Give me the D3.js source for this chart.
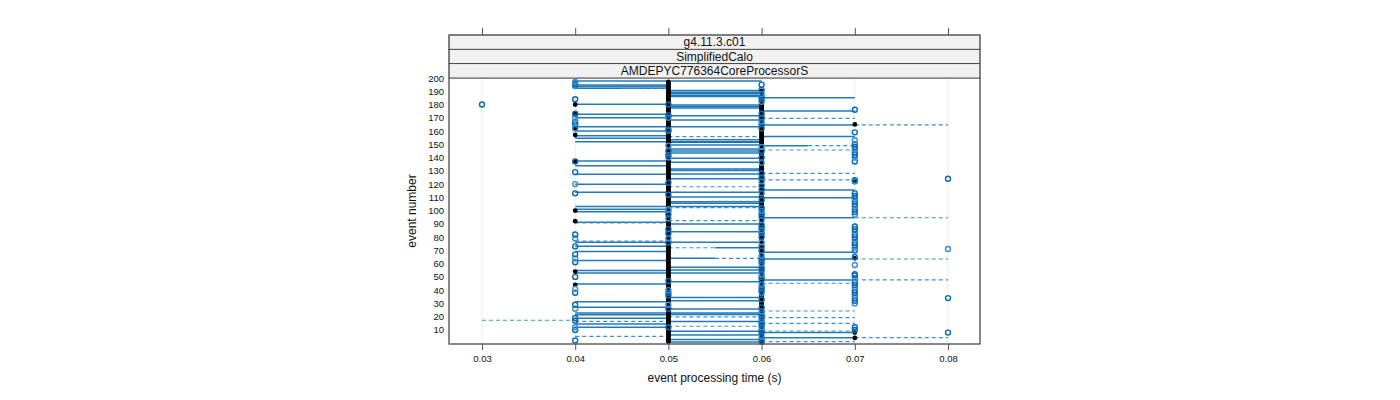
<!DOCTYPE html>
<html><head><meta charset="utf-8">
<script src="https://cdn.jsdelivr.net/npm/d3@7"></script>
<style>body{margin:0;background:#fff}text{font-family:"Liberation Sans",Arial,sans-serif}</style>
</head><body>
<svg id="chart" width="1400" height="400"></svg>
<script>
// ---------- data ----------
const stripLabels = ["g4.11.3.c01", "SimplifiedCalo", "AMDEPYC776364CoreProcessorS"];
const xTicks = [0.03, 0.04, 0.05, 0.06, 0.07, 0.08];
const yTicks = [10, 20, 30, 40, 50, 60, 70, 80, 90, 100, 110, 120, 130, 140, 150, 160, 170, 180, 190, 200];
const xLabel = "event processing time (s)";
const yLabel = "event number";

// solid segments: [event, from time, to time]
const solidSegs = [
  [197.7,0.04,0.06],[194.7,0.04,0.05],[193.6,0.04,0.05],[192.2,0.04,0.05],[180.2,0.04,0.05],[172.6,0.04,0.05],[170,0.04,0.05],
  [163.3,0.04,0.05],[160,0.04,0.05],[156.5,0.04,0.05],[154.5,0.04,0.05],[152,0.04,0.06],[137.4,0.04,0.05],
  [133.9,0.04,0.05],[127.4,0.04,0.05],[119.8,0.04,0.05],[113.8,0.04,0.05],[103,0.04,0.06],[101,0.04,0.05],
  [99.2,0.04,0.05],[91.2,0.04,0.05],[76.1,0.04,0.05],[73.1,0.04,0.05],[69.1,0.04,0.05],[62.3,0.04,0.05],
  [54.8,0.04,0.05],[53,0.04,0.05],[44.7,0.04,0.05],[31.3,0.04,0.05],[27.1,0.04,0.05],[22.8,0.04,0.05],
  [21.5,0.04,0.05],[18.8,0.04,0.05],[14.5,0.04,0.05],[12,0.04,0.05],
  [190.5,0.05,0.06],[189.3,0.05,0.06],[188.4,0.05,0.06],[187,0.05,0.06],[186,0.05,0.06],[179.6,0.05,0.06],[178.5,0.05,0.06],[177.4,0.05,0.06],
  [171.6,0.05,0.06],[168.3,0.05,0.06],[163.3,0.05,0.06],[153.5,0.05,0.06],[151.5,0.05,0.06],[149.5,0.05,0.06],[146.5,0.05,0.06],
  [145,0.05,0.06],[143.4,0.05,0.06],[139.4,0.05,0.06],[136.5,0.05,0.06],[131.4,0.05,0.06],[130.2,0.05,0.06],[127.6,0.05,0.06],
  [124,0.05,0.06],[113.8,0.05,0.06],[110.2,0.05,0.06],[106.7,0.05,0.06],[105.5,0.05,0.06],[89.9,0.05,0.06],[84.1,0.05,0.06],
  [76.1,0.05,0.06],[72,0.055,0.06],[64,0.05,0.055],[57.2,0.05,0.06],[55.3,0.05,0.06],[53,0.05,0.06],[46.3,0.05,0.06],
  [34.5,0.05,0.06],[32,0.05,0.06],[25.8,0.05,0.06],[22.8,0.05,0.06],[21.6,0.05,0.06],[16.3,0.05,0.06],[9,0.05,0.06],
  [6.2,0.05,0.06],[2.7,0.05,0.06],[1,0.05,0.06],
  [185.2,0.06,0.07],[175.1,0.06,0.07],[164.6,0.06,0.07],[155.8,0.06,0.07],[149,0.06,0.065],[115.5,0.06,0.07],
  [109.7,0.06,0.07],[94.6,0.06,0.07],[68.6,0.06,0.07],[63.5,0.06,0.07],[47.7,0.06,0.07],[8,0.06,0.07],[4.2,0.06,0.07]
];
// dashed segments: [event, from time, to time]
const dashedSegs = [
  [192.2,0.045,0.05],[90.8,0.04,0.05],[77,0.04,0.05],[16.5,0.04,0.05],[5.2,0.04,0.05],
  [155.8,0.05,0.06],[131.4,0.0555,0.06],[118,0.05,0.06],[107,0.0545,0.06],[102.2,0.05,0.06],[92.4,0.05,0.06],
  [72,0.05,0.055],[64,0.055,0.06],[19.8,0.05,0.06],[12.8,0.05,0.06],
  [169.6,0.06,0.07],[149,0.065,0.07],[145.7,0.06,0.07],[128.1,0.06,0.07],[123.1,0.06,0.07],[45.2,0.06,0.07],
  [24.3,0.06,0.07],[19.3,0.06,0.07],[15,0.06,0.07],[9.2,0.06,0.07],[1.2,0.06,0.07],
  [164.6,0.07,0.08],[94.6,0.07,0.08],[63.5,0.07,0.08],[47.7,0.07,0.08],[4.2,0.07,0.08],
  [17.3,0.03,0.04]
];

// open blue circles, event numbers per time value
const circles03 = [180];
const circles04 = [2,10,12,17,19,26,29,38,41,50,61,64,67,73,79,82,113,120,129,137,162,165,167,170,173,184,194,195,196,197];
const circles05 = [12,26,29,36,38,40,47,76,79,83,86,94,97,100,101,112,121,140,142,145,149,160,161,170,172,180];
const circles06 = [1,3,5,8,10,12,14,16,18,20,22,24,27,33,38,40,42,44,48,50,52,55,57,60,62,64,66,70,73,76,80,83,85,87,89,93,96,98,100,102,108,113,116,119,122,125,128,136,140,145,148,162,165,167,170,173,182,184,186,188,191,195];
const circles07 = [10,12,30,32,34,36,38,40,42,44,46,49,51,52,59,65,70,72,74,76,78,80,82,84,86,88,97,99,101,103,105,107,109,111,113,122,123,137,140,142,144,146,148,150,153,159,176];
const circles08 = [8,34,71,124];

// filled black dots, event numbers per time value
const dots04 = [44,54,92,100,137,157,162,173,180];
const dots05 = [1,2,3,4,5,6,7,8,9,10,11,12,13,14,15,16,17,18,19,20,21,22,23,24,25,26,27,28,29,30,31,32,33,34,35,36,37,38,39,40,41,42,43,44,45,46,47,48,49,50,51,52,53,54,55,56,57,58,59,60,61,62,63,64,65,66,67,68,69,70,71,72,73,74,75,76,77,78,79,80,81,82,83,84,85,86,87,88,89,90,91,92,93,94,95,96,97,98,99,100,101,102,103,104,105,106,107,108,109,110,111,112,113,114,115,116,117,118,119,120,121,122,123,124,125,126,127,128,129,130,131,132,133,134,135,136,137,138,139,140,141,142,143,144,145,146,147,148,149,150,151,152,153,154,155,156,157,158,159,160,161,162,163,164,165,166,167,168,169,170,171,172,173,174,175,176,177,178,179,180,181,182,183,184,185,186,187,188,189,190,191,192,193,194,195,196,197];
const dots06 = [1,2,3,4,5,6,7,8,9,10,11,12,13,14,15,16,17,18,19,20,21,22,23,24,25,26,27,28,29,30,31,32,33,34,35,36,37,38,39,40,41,42,43,44,45,46,47,48,49,50,51,52,53,54,55,56,57,58,59,60,61,62,63,64,65,66,67,68,69,70,71,72,73,74,75,76,77,78,79,80,81,82,83,84,85,86,87,88,89,90,91,92,93,94,95,96,97,98,99,100,101,102,103,104,105,106,107,108,109,110,111,112,113,114,115,116,117,118,119,120,121,122,123,124,125,126,127,128,129,130,131,132,133,134,135,136,137,138,139,140,141,142,143,144,145,146,147,148,149,150,151,152,153,154,155,156,157,158,159,160,161,162,163,164,165,166,167,168,169,170,171,172,174,175,176,177,178,179,180,181,183,185,187,189,190];
const dots07 = [4,8,64,123,165];

// ---------- layout ----------
const svg = d3.select("#chart");
const L = 449, R = 980, T = 78, B = 344, stripTop = 35, stripH = 14.33;
const x = d3.scaleLinear().domain([0.02646, 0.08343]).range([L, R]);
const y = d3.scaleLinear().domain([-0.6, 200]).range([B, T]);

const blue = "#0a6cb2", lightBlue = "#3d8fd1";

// grid
svg.append("g").selectAll("line").data(xTicks).join("line")
  .attr("x1", d => x(d)).attr("x2", d => x(d)).attr("y1", T).attr("y2", B)
  .attr("stroke", "#ebebeb").attr("stroke-width", 1);

// segments
const plot = svg.append("g");
plot.selectAll("line.s").data(solidSegs).join("line").attr("class", "s")
  .attr("x1", d => x(d[1])).attr("x2", d => x(d[2]))
  .attr("y1", d => y(d[0])).attr("y2", d => y(d[0]))
  .attr("stroke", blue).attr("stroke-width", 1.5).attr("stroke-opacity", 0.9);
plot.selectAll("line.d").data(dashedSegs).join("line").attr("class", "d")
  .attr("x1", d => x(d[1])).attr("x2", d => x(d[2]))
  .attr("y1", d => y(d[0])).attr("y2", d => y(d[0]))
  .attr("stroke", lightBlue).attr("stroke-width", 1.2).attr("stroke-dasharray", "4,3");

// black dots
const dotGroups = [[0.04, dots04], [0.05, dots05], [0.06, dots06], [0.07, dots07]];
dotGroups.forEach(([t, evs]) => {
  plot.append("g").selectAll("circle").data(evs).join("circle")
    .attr("cx", x(t)).attr("cy", d => y(d)).attr("r", 2.4).attr("fill", "#000");
});

// open circles
const circleGroups = [[0.03, circles03], [0.04, circles04], [0.05, circles05], [0.06, circles06], [0.07, circles07], [0.08, circles08]];
circleGroups.forEach(([t, evs]) => {
  plot.append("g").selectAll("circle").data(evs).join("circle")
    .attr("cx", x(t)).attr("cy", d => y(d)).attr("r", 2.5)
    .attr("fill", "none").attr("stroke", (d, i) => i % 3 === 2 ? lightBlue : blue).attr("stroke-width", 1.4);
});

// panel border
svg.append("rect").attr("x", L).attr("y", T).attr("width", R - L).attr("height", B - T)
  .attr("fill", "none").attr("stroke", "#7a7a7a").attr("stroke-width", 1);

// strips
stripLabels.forEach((lab, i) => {
  const sy = stripTop + i * stripH;
  svg.append("rect").attr("x", L).attr("y", sy).attr("width", R - L).attr("height", stripH)
    .attr("fill", "#f1f1f1").attr("stroke", "#333").attr("stroke-width", 0.8);
  svg.append("text").attr("x", (L + R) / 2).attr("y", sy + stripH / 2 + 4.3)
    .attr("text-anchor", "middle").attr("font-size", 12).attr("fill", "#111").text(lab);
});
svg.append("rect").attr("x", L).attr("y", stripTop).attr("width", R - L).attr("height", B - stripTop)
  .attr("fill", "none").attr("stroke", "#555").attr("stroke-width", 1);

// bottom axis
const xAxis = d3.axisBottom(x).tickValues(xTicks).tickSize(6).tickPadding(5).tickFormat(d3.format(".2f"));
const gx = svg.append("g").attr("transform", `translate(0,${B})`).call(xAxis);
gx.select(".domain").remove();
gx.selectAll("line").attr("stroke", "#555");
gx.selectAll("text").attr("font-size", 9.5).attr("fill", "#111").attr("font-family", "Liberation Sans, Arial, sans-serif");

// top ticks
const gt = svg.append("g").attr("transform", `translate(0,${stripTop})`)
  .call(d3.axisTop(x).tickValues(xTicks).tickSize(7).tickFormat(""));
gt.select(".domain").remove();
gt.selectAll("line").attr("stroke", "#555");

// left axis labels
const yAxis = d3.axisLeft(y).tickValues(yTicks).tickSize(0).tickPadding(5);
const gy = svg.append("g").attr("transform", `translate(${L},0)`).call(yAxis);
gy.select(".domain").remove();
gy.selectAll("text").attr("font-size", 9.5).attr("fill", "#111").attr("font-family", "Liberation Sans, Arial, sans-serif");

// axis titles
svg.append("text").attr("x", (L + R) / 2).attr("y", 382).attr("text-anchor", "middle")
  .attr("font-size", 12).attr("fill", "#111").text(xLabel);
svg.append("text").attr("transform", `translate(416,${(T + B) / 2}) rotate(-90)`)
  .attr("text-anchor", "middle").attr("font-size", 12).attr("fill", "#111").text(yLabel);
</script>
</body></html>
